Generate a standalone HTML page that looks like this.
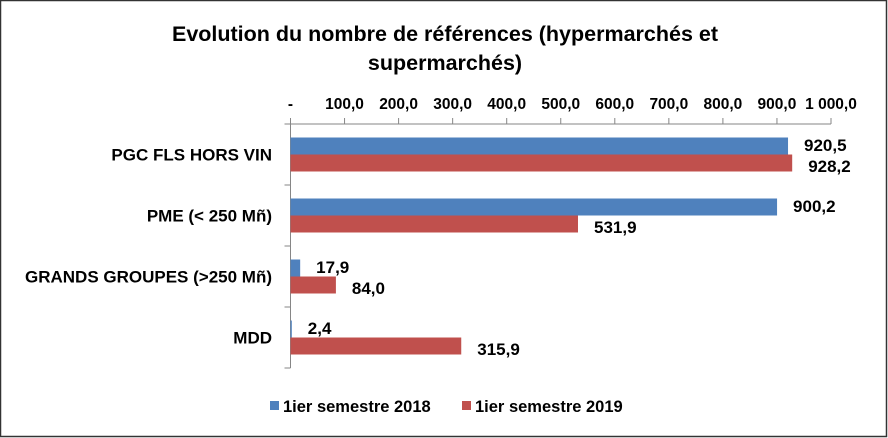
<!DOCTYPE html>
<html><head><meta charset="utf-8"><style>
html,body{margin:0;padding:0;background:#fff;}
svg{display:block;font-family:"Liberation Sans",Arial,sans-serif;}
</style></head><body>
<svg id="chart" width="888" height="438" viewBox="0 0 888 438">
<rect x="0.5" y="0.5" width="886" height="436" fill="#fff" stroke="#333" stroke-width="1.5"/>
<text x="445" y="41" text-anchor="middle" font-size="21.5" font-weight="bold" fill="#000">Evolution du nombre de références (hypermarchés et</text>
<text x="445" y="70" text-anchor="middle" font-size="21.5" font-weight="bold" fill="#000">supermarchés)</text>
<g id="plot"></g>
<g>
<rect x="270" y="401" width="9" height="9" fill="#4f81bd"/>
<text x="283" y="412" font-size="16.5" font-weight="bold">1ier semestre 2018</text>
<rect x="462" y="401" width="9" height="9" fill="#c0504d"/>
<text x="475" y="412" font-size="16.5" font-weight="bold">1ier semestre 2019</text>
</g>
</svg>
<script>
const categories = ["PGC FLS HORS VIN", "PME (< 250 Mñ)", "GRANDS GROUPES (>250 Mñ)", "MDD"];
const series2018 = [920.5, 900.2, 17.9, 2.4];
const series2019 = [928.2, 531.9, 84.0, 315.9];
const tickValues = [0, 100, 200, 300, 400, 500, 600, 700, 800, 900, 1000];
const tickLabels = ["-", "100,0", "200,0", "300,0", "400,0", "500,0", "600,0", "700,0", "800,0", "900,0", "1 000,0"];

const NS = "http://www.w3.org/2000/svg";
const g = document.getElementById("plot");
const X0 = 290.5, X1 = 831, Y0 = 124, Y1 = 368;
const xs = v => X0 + (v / 1000) * (X1 - X0);
const band = (Y1 - Y0) / categories.length;
const yc = i => Y0 + band * (i + 0.5);
const barH = 17;
function mk(tag, attrs){const e=document.createElementNS(NS,tag);for(const k in attrs)e.setAttribute(k,attrs[k]);g.appendChild(e);return e;}
const fmt = v => v.toFixed(1).replace(".", ",");

let ax = mk("line",{x1:X0,y1:Y0,x2:X1,y2:Y0,stroke:"#868686","stroke-width":1});


let ay = mk("line",{x1:X0,y1:Y0,x2:X0,y2:Y1,stroke:"#868686","stroke-width":1});


tickValues.forEach((v,i)=>{
  const t = mk("line",{x1:xs(v),y1:Y0-6,x2:xs(v),y2:Y0,stroke:"#868686"});
  
  
  const l = mk("text",{x:xs(v),y:Y0-15,"text-anchor":"middle","font-size":"15.5","font-weight":"bold"});
  l.textContent = tickLabels[i];
  
  
});
for(let i=0;i<=categories.length;i++){
  const t = mk("line",{x1:X0-6,y1:Y0+band*i,x2:X0,y2:Y0+band*i,stroke:"#868686"});
  
  
}
categories.forEach((c,i)=>{
  const l = mk("text",{x:272,y:yc(i)+6,"text-anchor":"end","font-size":"17","font-weight":"bold"});
  l.textContent = c;
  
  
  const b1 = mk("rect",{x:X0,y:yc(i)-barH,width:xs(series2018[i])-X0,height:barH,fill:"#4f81bd"});
  
  
  const b2 = mk("rect",{x:X0,y:yc(i),width:xs(series2019[i])-X0,height:barH,fill:"#c0504d"});
  
  
  const v1 = mk("text",{x:xs(series2018[i])+16,y:yc(i)-barH/2+5,"font-size":"17","font-weight":"bold"});
  v1.textContent = fmt(series2018[i]);
  
  
  const v2 = mk("text",{x:xs(series2019[i])+16,y:yc(i)+barH/2+9,"font-size":"17","font-weight":"bold"});
  v2.textContent = fmt(series2019[i]);
  
  
});
</script>
</body></html>
